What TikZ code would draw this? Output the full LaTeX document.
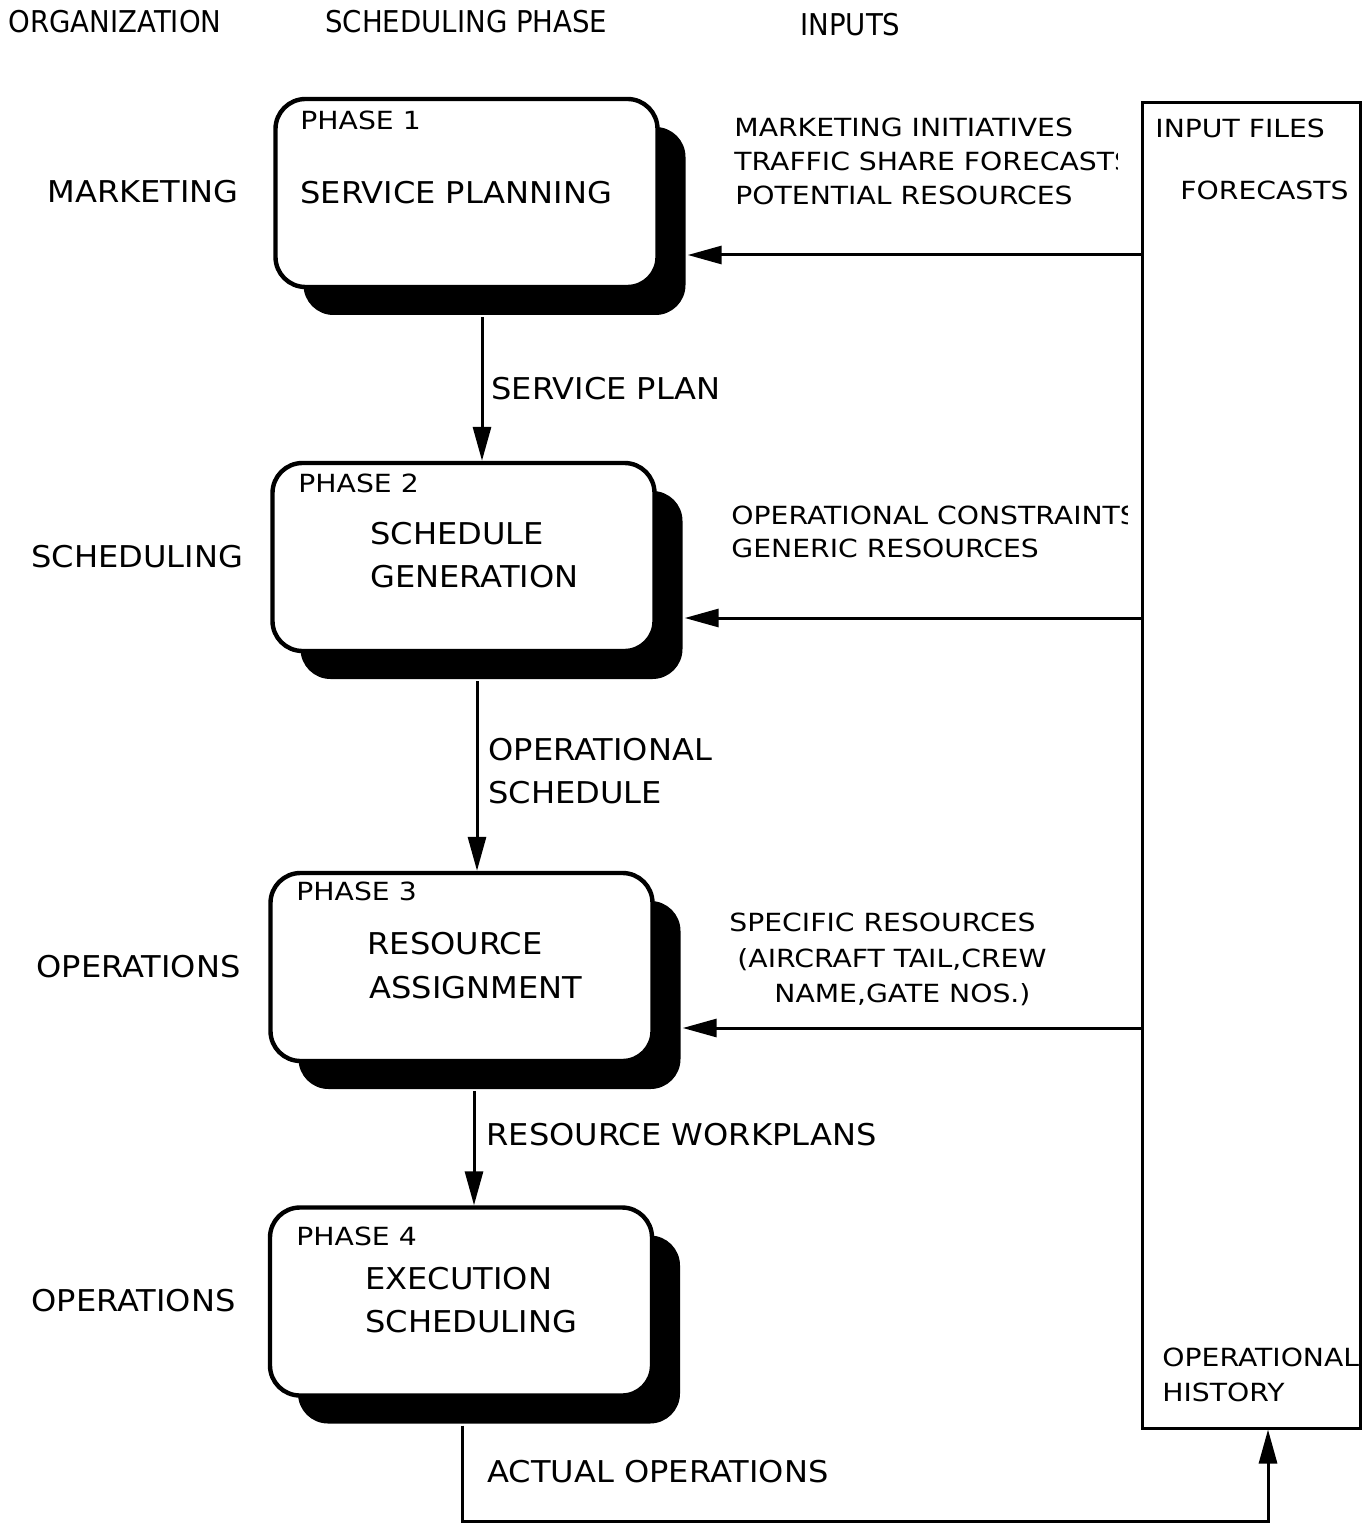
\documentclass[tikz,border=0pt]{standalone}
\usepackage{fontspec}
\setmainfont{DejaVu Sans}
\newfontfamily\bigfam[FakeStretch=1.07]{DejaVu Sans}
\newfontfamily\smallfam[FakeStretch=1.13]{DejaVu Sans}
\newfontfamily\headfam[FakeStretch=0.92]{DejaVu Sans}
\usetikzlibrary{arrows.meta,shadows,calc}
\tikzset{
  bigtxt/.style={anchor=west,inner sep=0pt,text height=10.9pt,text depth=0pt,font=\bigfam\fontsize{15pt}{18pt}\selectfont},
  smalltxt/.style={anchor=west,inner sep=0pt,text height=9.1pt,text depth=0pt,font=\smallfam\fontsize{12.5pt}{15pt}\selectfont},
  headtxt/.style={anchor=west,inner sep=0pt,text height=10.9pt,text depth=0pt,font=\headfam\fontsize{15pt}{18pt}\selectfont},
  phasebox/.style={draw,line width=2.2pt,fill=white,rounded corners=15pt,minimum width=191pt,minimum height=94pt,inner sep=0pt,
    drop shadow={shadow xshift=14pt,shadow yshift=-14pt,fill=black,opacity=1}},
  filebox/.style={draw,line width=1.5pt,minimum width=109pt,minimum height=662.5pt,inner sep=0pt},
  arr/.style={line width=1.5pt,-{Triangle[length=17pt,width=9pt]}},
}
\begin{document}
\begin{tikzpicture}[x={(0.5pt,0)},y={(0,-0.5pt)}]
\useasboundingbox (0,0) rectangle (1368,1524);

% headers
\node[headtxt] (h1) at (8,22) {ORGANIZATION};
\node[headtxt] (h2) at (325,22) {SCHEDULING PHASE};
\node[headtxt] (h3) at (800,25) {INPUTS};

% input files box
\node[filebox] (inp) at (1251,765.5) {};
\node[smalltxt] (if1) at (1155,128) {INPUT FILES};
\node[smalltxt] (if2) at (1180,190) {FORECASTS};
\node[smalltxt] (if3) at (1162,1357) {OPERATIONAL};
\node[smalltxt] (if4) at (1162,1392) {HISTORY};

% phase boxes
\node[phasebox] (b1) at (466.5,193) {};
\node[phasebox] (b2) at (463.5,557) {};
\node[phasebox] (b3) at (461.5,967) {};
\node[phasebox] (b4) at (461,1301.5) {};

% box texts
\node[smalltxt] (p1) at (300,120) {PHASE 1};
\node[bigtxt] (t1) at (300,193) {SERVICE PLANNING};
\node[smalltxt] (p2) at (298,483) {PHASE 2};
\node[bigtxt] (t2a) at (370,534) {SCHEDULE};
\node[bigtxt] (t2b) at (370,577) {GENERATION};
\node[smalltxt] (p3) at (296,891) {PHASE 3};
\node[bigtxt] (t3a) at (367,944) {RESOURCE};
\node[bigtxt] (t3b) at (369,988) {ASSIGNMENT};
\node[smalltxt] (p4) at (296,1236) {PHASE 4};
\node[bigtxt] (t4a) at (365,1279) {EXECUTION};
\node[bigtxt] (t4b) at (365,1322) {SCHEDULING};

% organization labels
\node[bigtxt] (o1) at (47,192) {MARKETING};
\node[bigtxt] (o2) at (31,557) {SCHEDULING};
\node[bigtxt] (o3) at (36,967) {OPERATIONS};
\node[bigtxt] (o4) at (31,1301) {OPERATIONS};

% vertical arrows
\coordinate (a1) at ($(b1.south)+(15.5,28)$);
\coordinate (a2) at ($(b2.south)+(13.5,28)$);
\coordinate (a3) at ($(b3.south)+(12.5,28)$);
\draw[arr] (a1) -- (a1 |- b2.north);
\draw[arr] (a2) -- (a2 |- b3.north);
\draw[arr] (a3) -- (a3 |- b4.north);
\node[bigtxt] (l1) at (491,389) {SERVICE PLAN};
\node[bigtxt] (l2a) at (488,750) {OPERATIONAL};
\node[bigtxt] (l2b) at (488,793) {SCHEDULE};
\node[bigtxt] (l3) at (486,1135) {RESOURCE WORKPLANS};

% horizontal input arrows
\coordinate (r1) at ($(b1.east)+(28,62)$);
\coordinate (r2) at ($(b2.east)+(28,61)$);
\coordinate (r3) at ($(b3.east)+(28,61)$);
\draw[arr] (r1 -| inp.west) -- (r1);
\draw[arr] (r2 -| inp.west) -- (r2);
\draw[arr] (r3 -| inp.west) -- (r3);

% input texts
\node[smalltxt] (i1) at (734,127) {MARKETING INITIATIVES};
\begin{scope}
  \clip (700,140) rectangle (1117,185);
  \node[smalltxt] (i2) at (734,161) {TRAFFIC SHARE FORECASTS};
\end{scope}
\node[smalltxt] (i3) at (735,195) {POTENTIAL RESOURCES};
\begin{scope}
  \clip (700,495) rectangle (1127,535);
  \node[smalltxt] (i4) at (731,515) {OPERATIONAL CONSTRAINTS};
\end{scope}
\node[smalltxt] (i5) at (731,548) {GENERIC RESOURCES};
\node[smalltxt] (i6) at (729,922) {SPECIFIC RESOURCES};
\node[smalltxt] (i7) at (737,958) {(AIRCRAFT TAIL,CREW};
\node[smalltxt] (i8) at (774,993) {NAME,GATE NOS.)};

% feedback loop
\coordinate (f1) at ($(b4.south)+(1,28)$);
\coordinate (f2) at (1268,1521);
\draw[arr] (f1) |- (f2) -- (f2 |- inp.south);
\node[bigtxt] (l4) at (487,1472) {ACTUAL OPERATIONS};
\end{tikzpicture}
\end{document}
